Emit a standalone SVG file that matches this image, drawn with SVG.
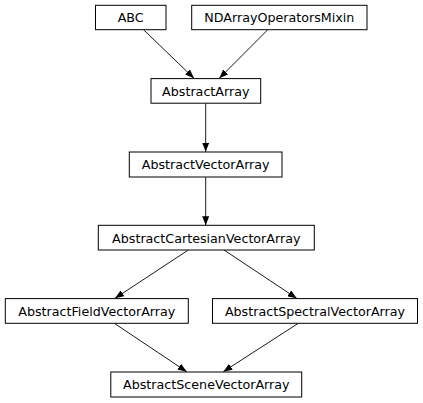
<svg xmlns="http://www.w3.org/2000/svg" width="423" height="403" viewBox="0 0 423 403">
<defs>
<style>
.node rect{fill:#fff;stroke:#000;stroke-width:1}
.node text{font-family:"DejaVu Sans",sans-serif;font-size:12.7px;fill:#000;text-anchor:middle}
.edges line{stroke:#000;stroke-width:0.9;marker-end:url(#ah)}
</style>
<marker id="ah" markerUnits="userSpaceOnUse" markerWidth="9" markerHeight="7" refX="9" refY="3.5" orient="auto" viewBox="0 0 9 7">
<path d="M0,0 L9,3.5 L0,7 z" fill="#000"/>
</marker>
</defs>
<rect width="423" height="403" fill="#fff"/>
<g id="edges" class="edges">
<line x1="143.3" y1="29.5" x2="194" y2="78.3"/>
<line x1="268" y1="29.5" x2="219.3" y2="78.3"/>
<line x1="205.7" y1="103.3" x2="205.7" y2="151.7"/>
<line x1="205.7" y1="177.3" x2="205.7" y2="225.3"/>
<line x1="188.3" y1="250" x2="115" y2="298.3"/>
<line x1="224" y1="250" x2="296.7" y2="298.3"/>
<line x1="114.3" y1="323.3" x2="186.7" y2="371.7"/>
<line x1="298.3" y1="323.3" x2="223.3" y2="371.7"/>
</g>
<g id="ABC" class="node"><rect x="95.5" y="5.3" width="70.5" height="24.4"/><text x="130.7" y="22.3">ABC</text></g>
<g id="NDArrayOperatorsMixin" class="node"><rect x="191.7" y="5.3" width="175.3" height="24.4"/><text x="279.3" y="22.3">NDArrayOperatorsMixin</text></g>
<g id="AbstractArray" class="node"><rect x="151" y="78.6" width="109.7" height="24.6"/><text x="205.8" y="95.8">AbstractArray</text></g>
<g id="AbstractVectorArray" class="node"><rect x="129.3" y="152" width="152.7" height="25"/><text x="205.7" y="169.2">AbstractVectorArray</text></g>
<g id="AbstractCartesianVectorArray" class="node"><rect x="98.3" y="225.3" width="216" height="24.7"/><text x="206.3" y="242.6">AbstractCartesianVectorArray</text></g>
<g id="AbstractFieldVectorArray" class="node"><rect x="5.3" y="298.6" width="183" height="24.7"/><text x="96.8" y="315.9">AbstractFieldVectorArray</text></g>
<g id="AbstractSpectralVectorArray" class="node"><rect x="212.5" y="298.6" width="205" height="24.7"/><text x="315" y="315.9">AbstractSpectralVectorArray</text></g>
<g id="AbstractSceneVectorArray" class="node"><rect x="110.8" y="372" width="190.9" height="25"/><text x="206.3" y="389.2">AbstractSceneVectorArray</text></g>
</svg>
